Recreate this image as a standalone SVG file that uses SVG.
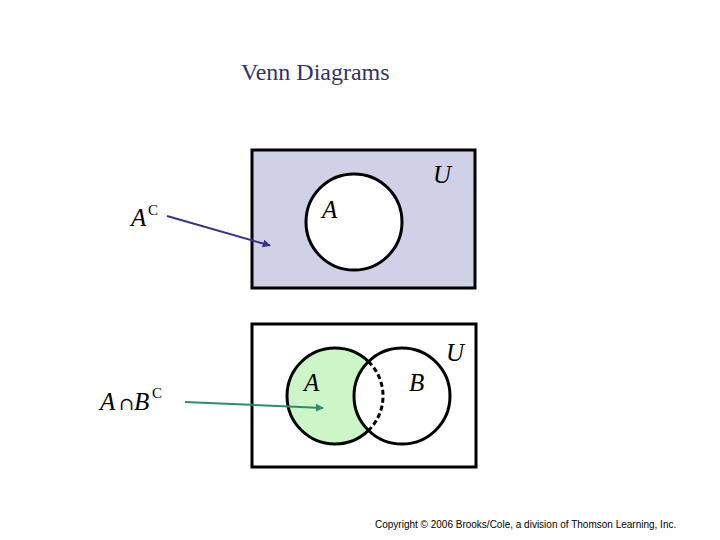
<svg xmlns="http://www.w3.org/2000/svg" width="720" height="540" viewBox="0 0 720 540">
<defs>
<style>
.box{stroke:#000;stroke-width:3}
.circ{fill:none;stroke:#000;stroke-width:3}
.lbl{font-family:"Liberation Serif",serif;font-style:italic;font-size:25px;fill:#000}
.sup{font-family:"Liberation Serif",serif;font-size:15px;fill:#000}
.title{font-family:"Liberation Serif",serif;font-size:24px;fill:#333366}
.copy{font-family:"Liberation Sans",Arial,sans-serif;font-size:10px;fill:#000}
</style>
<marker id="ab" viewBox="0 0 10 10" refX="9" refY="5" markerWidth="4" markerHeight="4" orient="auto"><path d="M0,0 L10,5 L0,10 z" fill="#333388"/></marker>
<marker id="ag" viewBox="0 0 10 10" refX="9" refY="5" markerWidth="4" markerHeight="4" orient="auto"><path d="M0,0 L10,5 L0,10 z" fill="#2e8b6e"/></marker>
</defs>
<rect width="720" height="540" fill="#fff"/>
<text class="title" x="241" y="80">Venn Diagrams</text>
<g id="venn-complement">
<rect class="box" x="252" y="150" width="223" height="138" fill="#d0d1e6"/>
<circle class="circ" cx="354" cy="222" r="48" style="fill:#fff"/>
<text class="lbl" x="433" y="183">U</text>
<text class="lbl" x="322" y="218">A</text>
</g>
<g id="label-ac">
<text class="lbl" x="131" y="226">A</text>
<text class="sup" x="148" y="215">C</text>
</g>
<g id="venn-difference">
<rect class="box" x="252" y="324" width="224" height="143" fill="#fff"/>
<path d="M368.5,361.6 A48,48 0 1 0 368.5,430.4 A48,48 0 0 1 368.5,361.6 Z" fill="#ccf5c8"/>
<path class="circ" d="M368.5,361.6 A48,48 0 1 0 368.5,430.4"/>
<path class="circ" d="M368.5,361.6 A48,48 0 0 1 368.5,430.4" stroke-dasharray="5,3"/>
<circle class="circ" cx="402" cy="396" r="48"/>
<text class="lbl" x="304" y="391">A</text>
<text class="lbl" x="409" y="391">B</text>
<text class="lbl" x="446" y="361">U</text>
</g>
<g id="label-anbc">
<text class="lbl" x="100" y="410">A</text>
<text x="119" y="410" font-family="'DejaVu Serif',serif" font-size="18" fill="#000">∩</text>
<text class="lbl" x="134" y="410">B</text>
<text class="sup" x="152" y="398">C</text>
</g>
<g id="connectors">
<line x1="167" y1="216" x2="270" y2="245.5" stroke="#333388" stroke-width="2" marker-end="url(#ab)"/>
<line x1="185" y1="402" x2="323" y2="408" stroke="#2e8b6e" stroke-width="2" marker-end="url(#ag)"/>
</g>
<text class="copy" x="375" y="528">Copyright © 2006 Brooks/Cole, a division of Thomson Learning, Inc.</text>
</svg>
